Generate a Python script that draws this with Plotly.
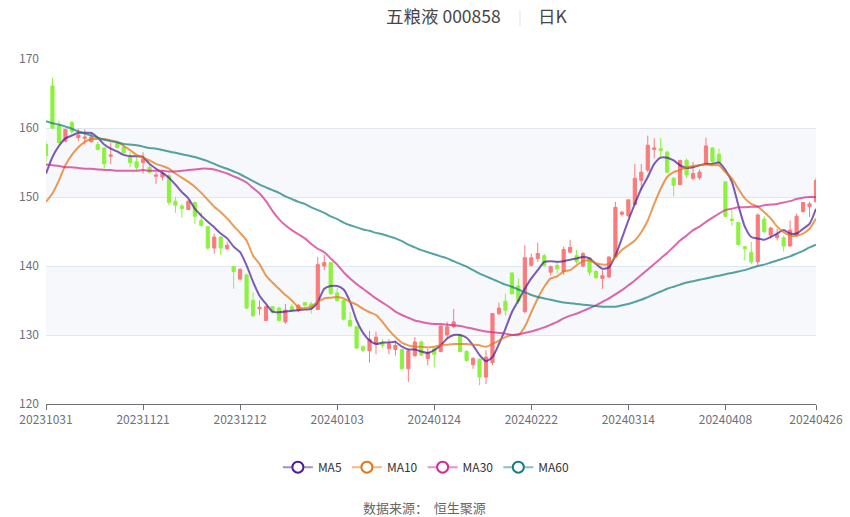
import plotly.graph_objects as go

# trading days shown on the category axis
dates = (
    ["20231031"]
    + ["202311" + d for d in ["01", "02", "03", "06", "07", "08", "09", "10", "13", "14", "15", "16", "17",
                               "20", "21", "22", "23", "24", "27", "28", "29", "30"]]
    + ["202312" + d for d in ["01", "04", "05", "06", "07", "08", "11", "12", "13", "14", "15", "18", "19",
                               "20", "21", "22", "25", "26", "27", "28", "29"]]
    + ["202401" + d for d in ["02", "03", "04", "05", "08", "09", "10", "11", "12", "15", "16", "17", "18",
                               "19", "22", "23", "24", "25", "26", "29", "30", "31"]]
    + ["202402" + d for d in ["01", "02", "05", "06", "07", "08", "19", "20", "21", "22", "23", "26", "27",
                               "28", "29"]]
    + ["202403" + d for d in ["01", "04", "05", "06", "07", "08", "11", "12", "13", "14", "15", "18", "19",
                               "20", "21", "22", "25", "26", "27", "28", "29"]]
    + ["202404" + d for d in ["01", "02", "03", "08", "09", "10", "11", "12", "15", "16", "17", "18", "19",
                               "22", "23", "24", "25", "26"]]
)

tick_dates = ["20231031", "20231121", "20231212", "20240103", "20240124",
              "20240222", "20240314", "20240408", "20240426"]

open_ = [157.6, 166.1, 160.4, 158.1, 160.8, 158.6, 158.5, 158.0, 157.6, 157.1,
         155.9, 157.7, 157.2, 155.7, 155.1, 155.0, 154.3, 153.0, 152.9, 153.1,
         149.4, 148.7, 148.2, 149.2, 146.6, 145.7, 142.6, 144.2, 142.5, 139.9,
         138.1, 138.7, 135.0, 133.8, 132.1, 134.1, 133.9, 131.9, 134.1, 133.6,
         134.7, 134.5, 133.7, 140.0, 140.5, 136.1, 135.0, 132.1, 131.2, 128.3,
         127.7, 128.7, 128.9, 128.0, 127.9, 127.9, 125.1, 127.0, 129.0, 126.6,
         128.0, 127.6, 130.0, 131.2, 130.0, 127.6, 125.7, 126.5, 123.9, 126.0,
         133.1, 134.9, 139.0, 137.1, 133.4, 140.1, 141.1, 141.5, 139.1, 140.1,
         139.2, 142.0, 141.5, 140.0, 141.2, 139.2, 138.2, 138.4, 141.3, 147.5,
         147.3, 148.9, 152.4, 153.9, 156.9, 157.0, 156.5, 152.7, 151.8, 155.3,
         152.7, 152.8, 154.7, 157.1, 156.2, 152.2, 146.8, 146.3, 142.8, 142.0,
         140.6, 146.8, 144.5, 144.1, 144.1, 142.9, 144.5, 147.9, 148.6, 149.3]
high = [158.0, 167.3, 161.1, 159.9, 161.0, 159.9, 159.8, 159.3, 158.0, 157.2,
        157.9, 158.0, 157.7, 156.5, 155.8, 156.5, 154.6, 153.6, 153.9, 153.4,
        150.0, 149.0, 149.5, 149.3, 147.8, 145.8, 144.7, 144.3, 143.5, 140.0,
        139.7, 138.9, 136.2, 135.0, 134.3, 134.2, 134.1, 134.5, 134.5, 134.5,
        134.8, 134.8, 141.3, 141.6, 140.6, 136.8, 135.2, 133.3, 131.3, 128.5,
        130.6, 130.5, 129.4, 129.4, 129.2, 128.0, 127.9, 129.7, 129.2, 128.0,
        128.2, 131.4, 131.9, 133.8, 130.2, 127.8, 126.8, 126.6, 127.8, 133.1,
        134.7, 136.0, 139.0, 138.2, 143.0, 141.8, 143.4, 141.8, 140.1, 140.6,
        142.8, 143.8, 142.3, 142.0, 141.3, 139.4, 139.4, 141.4, 149.3, 148.0,
        149.6, 154.8, 154.8, 158.9, 158.5, 158.6, 156.7, 152.9, 155.4, 155.6,
        155.1, 154.0, 158.6, 157.2, 157.0, 152.2, 148.1, 146.4, 142.9, 143.5,
        147.6, 147.2, 145.7, 145.4, 144.4, 146.6, 147.6, 149.3, 149.3, 152.8]
low = [155.1, 159.8, 157.7, 157.9, 158.9, 158.1, 157.6, 157.9, 156.8, 154.1,
       154.8, 157.0, 156.3, 154.3, 153.9, 153.4, 153.4, 151.9, 152.4, 148.8,
       147.7, 147.0, 148.1, 146.1, 145.7, 142.4, 141.8, 141.6, 142.4, 136.7,
       137.9, 133.8, 132.6, 132.9, 132.0, 133.1, 132.0, 131.6, 133.3, 133.3,
       134.1, 133.1, 133.6, 139.4, 135.8, 134.8, 132.1, 131.2, 128.0, 127.5,
       126.0, 127.2, 128.1, 127.2, 127.0, 125.0, 123.2, 126.8, 126.9, 125.6,
       125.3, 127.5, 129.5, 131.0, 127.5, 126.1, 125.1, 122.7, 122.9, 125.6,
       132.9, 132.8, 135.8, 134.5, 133.1, 139.9, 140.6, 139.9, 138.6, 138.9,
       138.7, 141.8, 140.3, 139.8, 138.6, 138.2, 136.7, 138.3, 141.2, 147.2,
       147.1, 148.8, 151.0, 153.6, 155.6, 155.8, 153.4, 150.1, 151.7, 152.8,
       152.4, 152.5, 154.6, 154.8, 154.8, 147.1, 145.8, 143.0, 140.8, 140.3,
       140.1, 144.7, 144.0, 143.7, 142.1, 142.8, 144.3, 147.7, 147.1, 149.2]
close = [156.0, 160.0, 157.9, 159.8, 159.5, 159.0, 158.7, 158.7, 156.9, 154.8,
         156.1, 157.2, 156.4, 155.0, 154.3, 155.5, 153.6, 153.2, 153.4, 149.2,
         148.8, 148.3, 149.4, 147.2, 145.9, 142.6, 144.2, 142.6, 143.0, 139.2,
         139.5, 133.9, 132.8, 134.0, 134.1, 133.3, 132.1, 133.6, 133.6, 134.3,
         134.3, 133.9, 140.2, 140.5, 136.0, 135.0, 132.3, 131.3, 128.1, 127.8,
         129.4, 129.7, 128.5, 128.7, 128.5, 125.1, 127.7, 129.0, 127.1, 127.5,
         127.2, 131.3, 131.2, 131.9, 127.6, 126.3, 126.6, 123.9, 126.8, 133.1,
         133.9, 133.6, 136.0, 134.9, 141.2, 141.2, 141.8, 140.1, 139.9, 139.6,
         142.4, 142.7, 140.6, 141.8, 139.1, 138.3, 138.6, 141.3, 148.5, 147.8,
         149.6, 152.7, 153.6, 157.5, 157.1, 156.7, 153.6, 151.7, 155.3, 153.2,
         153.4, 153.6, 157.4, 155.1, 155.0, 147.2, 146.6, 143.1, 142.5, 140.6,
         147.4, 145.0, 145.5, 144.5, 142.9, 145.2, 147.2, 149.2, 149.0, 152.4]

ma5 = [153.4, 155.8, 157.4, 158.5, 158.9, 159.3, 159.3, 159.3, 158.6, 157.6,
       157.0, 156.6, 156.1, 155.9, 155.9, 155.8, 154.8, 154.1, 153.5, 152.8,
       151.8, 150.7, 149.8, 148.3, 147.3, 146.4, 145.6, 144.7, 144.0, 142.8,
       142.0, 140.1, 137.7, 135.7, 134.5, 133.4, 133.3, 133.4, 133.5, 133.6,
       133.7, 133.8, 134.8, 136.7, 137.1, 137.1, 136.6, 134.8, 132.1, 130.3,
       129.2, 128.7, 128.9, 128.9, 129.0, 128.3, 127.9, 127.9, 127.6, 127.4,
       127.8, 128.5, 129.5, 130.0, 130.0, 129.6, 128.5, 127.1, 126.2, 126.8,
       128.7, 130.9, 133.3, 135.0, 136.7, 138.2, 139.4, 140.6, 140.7, 140.6,
       140.7, 140.9, 141.1, 141.3, 141.1, 140.3, 139.6, 139.8, 141.5, 144.0,
       146.6, 149.0, 151.2, 152.9, 154.8, 155.7, 155.7, 155.3, 154.6, 154.2,
       154.3, 154.6, 154.8, 154.8, 155.0, 153.9, 152.2, 148.8, 145.7, 144.2,
       144.0, 143.8, 144.2, 144.7, 145.2, 144.7, 144.7, 145.4, 146.1, 148.3]
ma10 = [149.3, 150.5, 152.4, 154.6, 156.1, 157.2, 158.0, 158.4, 158.4, 158.4,
        158.2, 158.0, 157.4, 156.8, 156.1, 155.7, 155.3, 154.8, 154.5, 154.1,
        153.4, 152.8, 152.2, 151.5, 150.6, 149.6, 148.6, 147.8, 146.9, 145.8,
        144.8, 143.7, 141.5, 140.3, 138.6, 137.6, 136.7, 135.8, 135.0, 134.0,
        133.9, 134.1, 134.8, 135.3, 135.4, 135.5, 135.3, 134.8, 134.4, 133.8,
        133.3, 132.9, 131.9, 130.7, 129.7, 128.9, 128.5, 128.3, 128.3, 128.2,
        128.3, 128.5, 128.6, 128.7, 128.7, 128.7, 128.6, 128.5, 128.3, 128.7,
        129.2, 129.7, 130.0, 130.0, 131.2, 133.3, 135.3, 137.0, 138.2, 138.5,
        139.2, 139.4, 140.1, 140.7, 140.8, 140.4, 140.2, 140.3, 141.3, 142.3,
        143.0, 143.7, 144.9, 146.6, 149.0, 151.2, 152.9, 153.6, 153.9, 154.3,
        154.5, 154.6, 154.7, 154.6, 154.6, 153.6, 152.7, 151.2, 149.8, 149.0,
        148.6, 147.8, 146.9, 145.7, 144.9, 144.4, 144.4, 144.7, 145.4, 146.9]
ma30 = [154.7, 154.6, 154.5, 154.3, 154.3, 154.2, 154.1, 154.1, 154.0, 153.9,
        153.9, 153.8, 153.8, 153.8, 153.8, 153.9, 153.8, 153.8, 153.8, 153.7,
        153.7, 153.8, 153.9, 154.0, 154.1, 154.1, 154.0, 153.7, 153.4, 153.0,
        152.6, 152.1, 151.3, 150.5, 149.4, 148.0, 146.8, 145.9, 145.2, 144.6,
        144.0, 143.2, 142.5, 142.0, 141.1, 140.2, 139.1, 138.2, 137.4, 136.7,
        136.0, 135.3, 134.7, 134.1, 133.4, 132.9, 132.5, 132.1, 131.9, 131.7,
        131.6, 131.6, 131.5, 131.4, 131.3, 131.1, 130.9, 130.7, 130.5, 130.4,
        130.3, 130.2, 130.0, 130.1, 130.3, 130.5, 130.8, 131.1, 131.5, 131.9,
        132.4, 132.8, 133.1, 133.5, 133.9, 134.3, 134.8, 135.3, 135.9, 136.5,
        137.2, 137.9, 138.7, 139.5, 140.3, 141.1, 141.9, 142.8, 143.7, 144.4,
        145.2, 145.7, 146.4, 147.0, 147.6, 148.1, 148.3, 148.5, 148.5, 148.6,
        148.6, 148.8, 148.9, 149.0, 149.2, 149.4, 149.7, 149.9, 150.0, 150.0]
ma60 = [161.0, 160.7, 160.5, 160.2, 159.9, 159.5, 159.2, 158.9, 158.6, 158.3,
        158.1, 157.9, 157.7, 157.6, 157.5, 157.3, 157.1, 157.0, 156.8, 156.6,
        156.4, 156.2, 156.0, 155.8, 155.5, 155.2, 154.8, 154.4, 154.1, 153.7,
        153.3, 152.8, 152.3, 151.8, 151.4, 151.0, 150.6, 150.1, 149.7, 149.3,
        149.0, 148.5, 148.1, 147.7, 147.2, 146.8, 146.3, 145.9, 145.6, 145.3,
        145.1, 144.8, 144.6, 144.3, 144.0, 143.6, 143.1, 142.7, 142.3, 142.0,
        141.7, 141.4, 141.1, 140.7, 140.3, 139.9, 139.4, 138.9, 138.5, 138.1,
        137.7, 137.3, 137.0, 136.6, 136.2, 135.8, 135.5, 135.3, 135.1, 134.9,
        134.7, 134.6, 134.5, 134.4, 134.3, 134.2, 134.1, 134.1, 134.1, 134.3,
        134.5, 134.8, 135.1, 135.5, 135.9, 136.3, 136.7, 137.0, 137.3, 137.6,
        137.8, 138.0, 138.2, 138.4, 138.6, 138.8, 139.0, 139.2, 139.4, 139.7,
        140.0, 140.2, 140.5, 140.8, 141.1, 141.4, 141.8, 142.2, 142.7, 143.1]

FONT = "Noto Sans CJK SC"

fig = go.Figure()

fig.add_trace(go.Candlestick(
    x=dates, open=open_, high=high, low=low, close=close,
    increasing=dict(line=dict(color="#fa7b7b", width=1), fillcolor="#fa7b7b"),
    decreasing=dict(line=dict(color="#8df23f", width=1), fillcolor="#8df23f"),
    showlegend=False, hoverinfo="skip",
))

# moving average lines + legend entries (white filled rings like the original)
ma_series = [("MA5", ma5, (75, 28, 155)), ("MA10", ma10, (229, 117, 18)),
             ("MA30", ma30, (212, 42, 143)), ("MA60", ma60, (19, 128, 126))]
for name, vals, rgb in ma_series:
    r, g, b = rgb
    fig.add_trace(go.Scatter(
        x=dates, y=vals, mode="lines", name=name, showlegend=False,
        line=dict(color=f"rgba({r},{g},{b},0.72)", width=2, shape="spline", smoothing=0.6),
        hoverinfo="skip",
    ))
    fig.add_trace(go.Scatter(
        x=[None], y=[None], mode="lines+markers", name=name,
        line=dict(color=f"rgba({r},{g},{b},0.5)", width=2),
        marker=dict(symbol="circle", size=11, color="white",
                    line=dict(color=f"rgb({r},{g},{b})", width=2)),
    ))

# alternating split area
for y0, y1 in [(130, 140), (150, 160)]:
    fig.add_shape(type="rect", xref="paper", yref="y", x0=0, x1=1, y0=y0, y1=y1,
                  fillcolor="#f6f8fc", line_width=0, layer="below")

title_font = dict(size=17.5, color="#464646")
fig.update_layout(
    width=850, height=517,
    margin=dict(l=46, r=34, t=59, b=113, autoexpand=False),
    paper_bgcolor="white", plot_bgcolor="white",
    font=dict(family=FONT, color="#6e7079", size=12),
    showlegend=True,
    legend=dict(orientation="h", x=0.494, xanchor="center", y=-0.183, yanchor="middle",
                font=dict(size=12, color="#333333"), itemwidth=30),
    annotations=[
        dict(text="五粮液 000858", xref="paper", yref="paper", x=0.594, y=1.125,
             showarrow=False, font=title_font, xanchor="right", yanchor="middle"),
        dict(text="|", xref="paper", yref="paper", x=0.616, y=1.125,
             showarrow=False, font=dict(size=14, color="#e3e3e3"), xanchor="center", yanchor="middle"),
        dict(text="日K", xref="paper", yref="paper", x=0.636, y=1.125,
             showarrow=False, font=title_font, xanchor="left", yanchor="middle"),
        dict(text="数据来源：  恒生聚源", xref="paper", yref="paper", x=0.492, y=-0.3,
             showarrow=False, font=dict(size=13, color="#666666"),
             xanchor="center", yanchor="middle"),
    ],
)
fig.update_xaxes(
    type="category", range=[0, len(dates) - 1], automargin=False,
    tickvals=tick_dates, ticktext=tick_dates,
    showgrid=False, showline=True, linecolor="#6e7079", linewidth=1,
    ticks="outside", ticklen=5, tickcolor="#6e7079",
    rangeslider=dict(visible=False),
)
fig.update_yaxes(
    range=[120, 170], dtick=10, showgrid=True, gridcolor="#e0e6f1", automargin=False,
    zeroline=False, showline=False, ticks="", ticklabelstandoff=6,
)

# drop the default 8px page margin so the figure fills the window exactly
fig.write_html("out.html", config={"displayModeBar": False},
               post_script="document.body.style.margin='0px';")
